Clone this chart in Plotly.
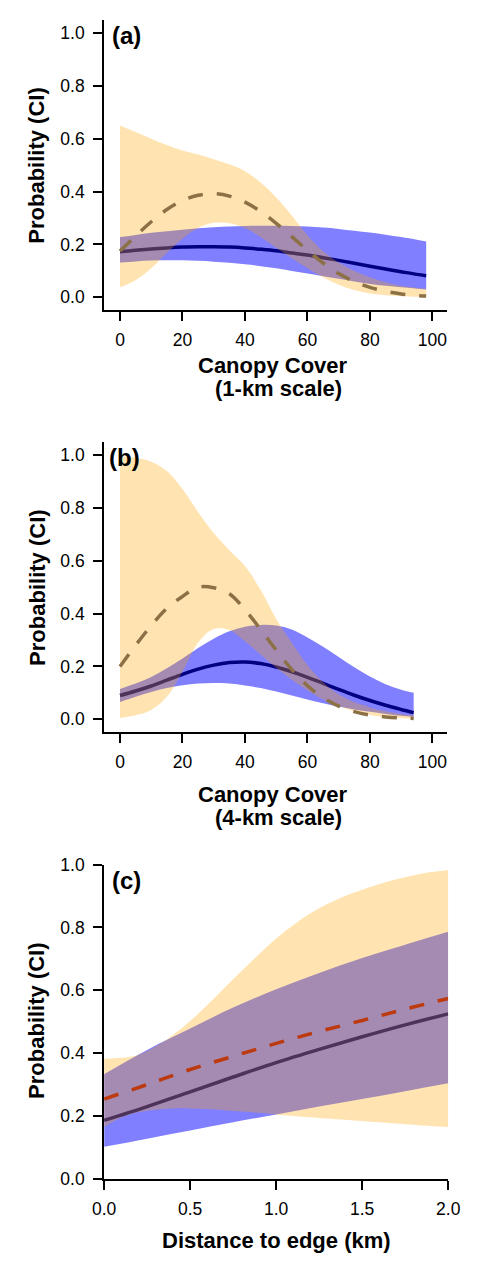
import plotly.graph_objects as go

W, H = 477, 1262

# ---------------- Panel (a): Canopy cover, 1-km scale ----------------
a_x = [0, 5, 10, 15, 20, 25, 30, 35, 40, 45, 50, 55, 60, 65, 70, 75, 80, 85, 90, 95, 98]
a_orange_hi = [0.65, 0.625, 0.60, 0.576, 0.555, 0.54, 0.522, 0.503, 0.477, 0.434, 0.378, 0.31, 0.235,
               0.175, 0.132, 0.10, 0.076, 0.057, 0.044, 0.036, 0.033]
a_orange_lo = [0.038, 0.065, 0.11, 0.168, 0.222, 0.262, 0.282, 0.28, 0.262, 0.228, 0.188, 0.148, 0.11,
               0.076, 0.048, 0.028, 0.015, 0.008, 0.004, 0.002, 0.002]
a_blue_hi = [0.228, 0.236, 0.244, 0.25, 0.256, 0.261, 0.265, 0.268, 0.27, 0.271, 0.271, 0.27, 0.268,
             0.264, 0.259, 0.252, 0.245, 0.237, 0.228, 0.218, 0.211]
a_blue_lo = [0.132, 0.136, 0.139, 0.14, 0.14, 0.138, 0.135, 0.131, 0.125, 0.118, 0.11, 0.10, 0.09,
             0.08, 0.07, 0.06, 0.051, 0.044, 0.038, 0.033, 0.03]
a_solid = [0.172, 0.178, 0.183, 0.187, 0.19, 0.191, 0.191, 0.19, 0.187, 0.182, 0.176, 0.168, 0.16,
           0.15, 0.14, 0.129, 0.118, 0.107, 0.097, 0.087, 0.082]
a_dashed = [0.175, 0.232, 0.286, 0.332, 0.366, 0.386, 0.392, 0.383, 0.36, 0.325, 0.28, 0.23, 0.178,
            0.13, 0.09, 0.06, 0.038, 0.023, 0.013, 0.007, 0.005]

# ---------------- Panel (b): Canopy cover, 4-km scale ----------------
b_x = [0, 5, 10, 15, 20, 25, 30, 35, 40, 45, 50, 55, 60, 65, 70, 75, 80, 85, 90, 94]
b_orange_hi = [0.995, 0.99, 0.975, 0.94, 0.872, 0.785, 0.705, 0.64, 0.58, 0.49, 0.38, 0.29, 0.205,
               0.14, 0.095, 0.065, 0.045, 0.03, 0.02, 0.015]
b_orange_lo = [0.005, 0.015, 0.035, 0.085, 0.18, 0.29, 0.342, 0.338, 0.295, 0.245, 0.195, 0.15, 0.11,
               0.075, 0.05, 0.03, 0.016, 0.008, 0.004, 0.002]
b_blue_hi = [0.115, 0.135, 0.16, 0.193, 0.23, 0.27, 0.305, 0.333, 0.35, 0.357, 0.355, 0.34, 0.31,
             0.275, 0.236, 0.197, 0.162, 0.133, 0.112, 0.10]
b_blue_lo = [0.065, 0.085, 0.103, 0.118, 0.129, 0.135, 0.137, 0.135, 0.128, 0.118, 0.105, 0.09, 0.075,
             0.061, 0.048, 0.037, 0.028, 0.02, 0.013, 0.009]
b_solid = [0.09, 0.107, 0.126, 0.148, 0.17, 0.19, 0.205, 0.215, 0.217, 0.211, 0.198, 0.18, 0.159,
           0.136, 0.113, 0.091, 0.071, 0.053, 0.037, 0.025]
b_dashed = [0.2, 0.28, 0.355, 0.42, 0.465, 0.5, 0.498, 0.475, 0.415, 0.34, 0.262, 0.188, 0.127,
            0.082, 0.05, 0.029, 0.016, 0.009, 0.005, 0.003]

# ---------------- Panel (c): Distance to edge ----------------
c_x = [0, 0.25, 0.5, 0.75, 1.0, 1.25, 1.5, 1.75, 2.0]
c_blue_hi = [0.333, 0.41, 0.478, 0.545, 0.603, 0.655, 0.703, 0.745, 0.786]
c_blue_lo = [0.102, 0.128, 0.154, 0.18, 0.205, 0.23, 0.254, 0.279, 0.304]
c_solid = [0.186, 0.23, 0.277, 0.324, 0.37, 0.412, 0.452, 0.49, 0.525]
c_dashed = [0.254, 0.30, 0.348, 0.39, 0.431, 0.469, 0.504, 0.54, 0.574]
c_x_fine = [0, 0.1, 0.2, 0.3, 0.4, 0.5, 0.6, 0.7, 0.8, 0.9, 1.0, 1.1, 1.2, 1.3, 1.4, 1.5, 1.6, 1.7,
            1.8, 1.9, 2.0]
c_orange_hi = [0.382, 0.385, 0.395, 0.422, 0.458, 0.502, 0.553, 0.608, 0.662, 0.715, 0.765, 0.808,
               0.845, 0.875, 0.90, 0.92, 0.938, 0.953, 0.966, 0.976, 0.983]
c_orange_lo = [0.165, 0.195, 0.212, 0.22, 0.224, 0.224, 0.222, 0.218, 0.214, 0.21, 0.205, 0.20,
               0.196, 0.192, 0.188, 0.184, 0.18, 0.176, 0.172, 0.168, 0.165]

y_ticks = [0, 0.2, 0.4, 0.6, 0.8, 1.0]
y_tick_text = ["0.0", "0.2", "0.4", "0.6", "0.8", "1.0"]
canopy_ticks = [0, 20, 40, 60, 80, 100]
dist_ticks = [0, 0.5, 1.0, 1.5, 2.0]
dist_tick_text = ["0.0", "0.5", "1.0", "1.5", "2.0"]

BLUE_FILL = "rgba(0,0,255,0.5)"
ORANGE_FILL = "rgba(255,165,0,0.3)"
SOLID = "#000080"

fig = go.Figure()


def add_panel(xa, ya, x, bhi, blo, solid, ohi, olo, dashed, dash_color, xo=None, xb=None):
    xo = x if xo is None else xo
    xb = x if xb is None else xb
    common = dict(xaxis=xa, yaxis=ya, mode="lines", showlegend=False, hoverinfo="skip")
    # blue CI band
    fig.add_trace(go.Scatter(x=xb, y=blo, line=dict(width=0, shape="spline"), **common))
    fig.add_trace(go.Scatter(x=xb, y=bhi, line=dict(width=0, shape="spline"), fill="tonexty",
                             fillcolor=BLUE_FILL, **common))
    # solid mean line
    fig.add_trace(go.Scatter(x=xb, y=solid, line=dict(width=3.5, color=SOLID, shape="spline"), **common))
    # orange CI band (drawn over)
    fig.add_trace(go.Scatter(x=xo, y=olo, line=dict(width=0, shape="spline"), **common))
    fig.add_trace(go.Scatter(x=xo, y=ohi, line=dict(width=0, shape="spline"), fill="tonexty",
                             fillcolor=ORANGE_FILL, **common))
    # dashed mean line
    fig.add_trace(go.Scatter(x=x, y=dashed, line=dict(width=3.5, color=dash_color, dash="15px,14px",
                                                     shape="spline"), **common))


add_panel("x", "y", a_x, a_blue_hi, a_blue_lo, a_solid, a_orange_hi, a_orange_lo, a_dashed,
          "rgb(140,112,70)")
add_panel("x2", "y2", b_x, b_blue_hi, b_blue_lo, b_solid, b_orange_hi, b_orange_lo, b_dashed,
          "rgb(140,112,70)")
add_panel("x3", "y3", c_x, c_blue_hi, c_blue_lo, c_solid, c_orange_hi, c_orange_lo, c_dashed,
          "rgb(188,58,14)", xo=c_x_fine)

FONT = "Liberation Sans, Arial, sans-serif"
tickfont = dict(family=FONT, size=17.5, color="black")


def px_x(p):
    return p / W


def px_y(p):
    return 1 - p / H


def axis_common():
    return dict(showline=True, linecolor="black", linewidth=2, ticks="outside", ticklen=9,
                tickwidth=2, tickcolor="black", showgrid=False, zeroline=False, tickfont=tickfont,
                fixedrange=True)


fig.update_layout(
    width=W, height=H, margin=dict(l=0, r=0, t=0, b=0),
    paper_bgcolor="white", plot_bgcolor="white", hovermode=False,
    xaxis=dict(domain=[px_x(97), px_x(458)], range=[-5.08, 104.65], anchor="y",
               tickvals=canopy_ticks, ticklabelstandoff=4, **axis_common()),
    yaxis=dict(domain=[px_y(305), px_y(10)], range=[-0.0484, 1.0495], anchor="x",
               tickvals=y_ticks, ticktext=y_tick_text, ticklabelstandoff=5, **axis_common()),
    xaxis2=dict(domain=[px_x(97), px_x(458)], range=[-5.08, 104.65], anchor="y2",
                tickvals=canopy_ticks, ticklabelstandoff=4, **axis_common()),
    yaxis2=dict(domain=[px_y(734), px_y(439)], range=[-0.0496, 1.0496], anchor="x2",
                tickvals=y_ticks, ticktext=y_tick_text, ticklabelstandoff=5, **axis_common()),
    xaxis3=dict(domain=[px_x(97), px_x(459.3)], range=[0, 2.0], anchor="y3",
                tickvals=dist_ticks, ticktext=dist_tick_text, ticklabelstandoff=4, **axis_common()),
    yaxis3=dict(domain=[px_y(1187.7), px_y(868.3)], range=[0, 1.0], anchor="x3",
                tickvals=y_ticks, ticktext=y_tick_text, ticklabelstandoff=5, **axis_common()),
)

title_font = dict(family=FONT, size=22, color="black")
label_font = dict(family=FONT, size=24, color="black")


def ann(text, x, y, font, xanchor="center", angle=0):
    fig.add_annotation(text=text, x=px_x(x), y=px_y(y), xref="paper", yref="paper",
                       xanchor=xanchor, yanchor="middle", showarrow=False, font=font,
                       textangle=angle)


for yc in (158.5, 587.5, 1027.5):
    ann("<b>Probability (CI)</b>", 26, yc, title_font, angle=-90)

ann("<b>(a)</b>", 103, 26, label_font, xanchor="left")
ann("<b>(b)</b>", 100, 455, label_font, xanchor="left")
ann("<b>(c)</b>", 103, 885, label_font, xanchor="left")

ann("<b>Canopy Cover</b>", 274.7, 361, title_font)
ann("<b>(1-km scale)</b>", 281, 385, title_font)
ann("<b>Canopy Cover</b>", 274.7, 797, title_font)
ann("<b>(4-km scale)</b>", 281, 821, title_font)
ann("<b>Distance to edge (km)</b>", 278, 1250, title_font)

fig.write_html("out.html", config={"displayModeBar": False, "staticPlot": True},
               post_script="document.body.style.margin='0px';")
